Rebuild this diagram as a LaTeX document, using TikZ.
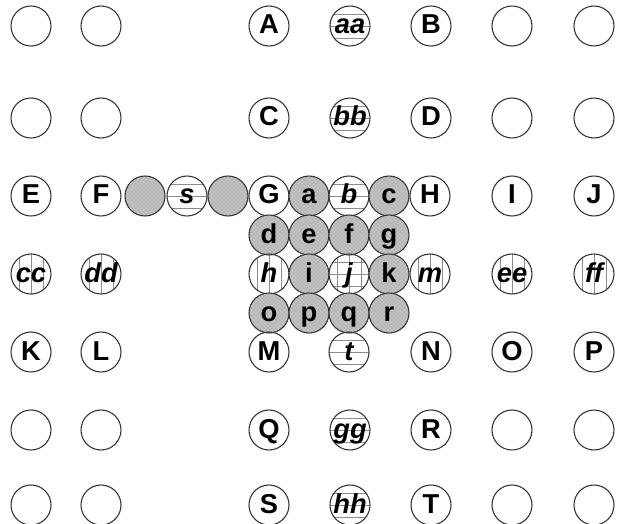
\documentclass[tikz,border=0pt]{standalone}
\usepackage{fontspec}
\setmainfont{Liberation Sans}
\usetikzlibrary{patterns}
\tikzset{
  ball/.style={circle, draw=black!80, line width=0.8pt, minimum size=30pt, inner sep=0pt,
    text height=12pt, text depth=0pt,
    font=\fontsize{20.5}{20.5}\selectfont\bfseries},
  itl/.style={font=\fontsize{20.5}{20.5}\selectfont\bfseries\itshape},
  hatchline/.style={draw=black!45, line width=0.6pt},
  hl/.style={itl, path picture={\foreach \d in {-9,0,9}{\draw[hatchline] ([yshift=\d pt]path picture bounding box.west) -- ([yshift=\d pt]path picture bounding box.east);}}},
  vl/.style={itl, path picture={\foreach \d in {-9,0,9}{\draw[hatchline] ([xshift=\d pt]path picture bounding box.north) -- ([xshift=\d pt]path picture bounding box.south);}}},
  gl/.style={itl, path picture={\foreach \d in {-9,0,9}{\draw[hatchline] ([yshift=\d pt]path picture bounding box.west) -- ([yshift=\d pt]path picture bounding box.east);
      \draw[hatchline] ([xshift=\d pt]path picture bounding box.north) -- ([xshift=\d pt]path picture bounding box.south);}}},
  sh/.style={fill=gray!45, path picture={\fill[pattern=crosshatch dots, pattern color=black!55] (path picture bounding box.south west) rectangle (path picture bounding box.north east);}}
}
\begin{document}
\begin{tikzpicture}[x=0.75pt, y=-0.75pt]
\useasboundingbox (0,0) rectangle (617,524);
% row 1
\node[ball] (r1c1) at (31,26) {};
\node[ball] (r1c2) at (101,26) {};
\node[ball] (A) at (269,26) {A};
\node[ball,hl] (aa) at (350,26) {aa};
\node[ball] (B) at (431,26) {B};
\node[ball] (r1c6) at (512,26) {};
\node[ball] (r1c7) at (594,26) {};
% row 2
\node[ball] (r2c1) at (31,118) {};
\node[ball] (r2c2) at (101,118) {};
\node[ball] (C) at (269,118) {C};
\node[ball,hl] (bb) at (350,118) {bb};
\node[ball] (D) at (431,118) {D};
\node[ball] (r2c6) at (512,118) {};
\node[ball] (r2c7) at (594,118) {};
% row 3
\node[ball] (E) at (31,196) {E};
\node[ball] (F) at (101,196) {F};
\node[ball,sh] (s1) at (145,196) {};
\node[ball,hl] (s) at (187,196) {s};
\node[ball,sh] (s2) at (228,196) {};
\node[ball] (G) at (269,196) {G};
\node[ball,sh] (a) at (309,196) {a};
\node[ball,hl] (b) at (349,196) {b};
\node[ball,sh] (c) at (389,196) {c};
\node[ball] (H) at (430,196) {H};
\node[ball] (I) at (512,196) {I};
\node[ball] (J) at (594,196) {J};
% block row d
\node[ball,sh] (d) at (269,235) {d};
\node[ball,sh] (e) at (309,235) {e};
\node[ball,sh] (f) at (349,235) {f};
\node[ball,sh] (g) at (389,235) {g};
% row h
\node[ball,vl] (cc) at (31,274) {cc};
\node[ball,vl] (dd) at (101,274) {dd};
\node[ball,vl] (h) at (269,274) {h};
\node[ball,sh] (i) at (309,274) {i};
\node[ball,gl] (j) at (349,274) {j};
\node[ball,sh] (k) at (389,274) {k};
\node[ball,vl] (m) at (430,274) {m};
\node[ball,vl] (ee) at (512,274) {ee};
\node[ball,vl] (ff) at (594,274) {ff};
% block row o
\node[ball,sh] (o) at (269,313) {o};
\node[ball,sh] (p) at (309,313) {p};
\node[ball,sh] (q) at (349,313) {q};
\node[ball,sh] (r) at (389,313) {r};
% row K
\node[ball] (K) at (31,352) {K};
\node[ball] (L) at (101,352) {L};
\node[ball] (M) at (269,352) {M};
\node[ball,hl] (t) at (349,352) {t};
\node[ball] (N) at (431,352) {N};
\node[ball] (O) at (512,352) {O};
\node[ball] (P) at (594,352) {P};
% row Q
\node[ball] (r6c1) at (31,430) {};
\node[ball] (r6c2) at (101,430) {};
\node[ball] (Q) at (269,430) {Q};
\node[ball,hl] (gg) at (350,430) {gg};
\node[ball] (R) at (431,430) {R};
\node[ball] (r6c6) at (512,430) {};
\node[ball] (r6c7) at (594,430) {};
% row S
\node[ball] (r7c1) at (31,505) {};
\node[ball] (r7c2) at (101,505) {};
\node[ball] (S) at (269,505) {S};
\node[ball,hl] (hh) at (350,505) {hh};
\node[ball] (T) at (431,505) {T};
\node[ball] (r7c6) at (512,505) {};
\node[ball] (r7c7) at (594,505) {};
\end{tikzpicture}
\end{document}
